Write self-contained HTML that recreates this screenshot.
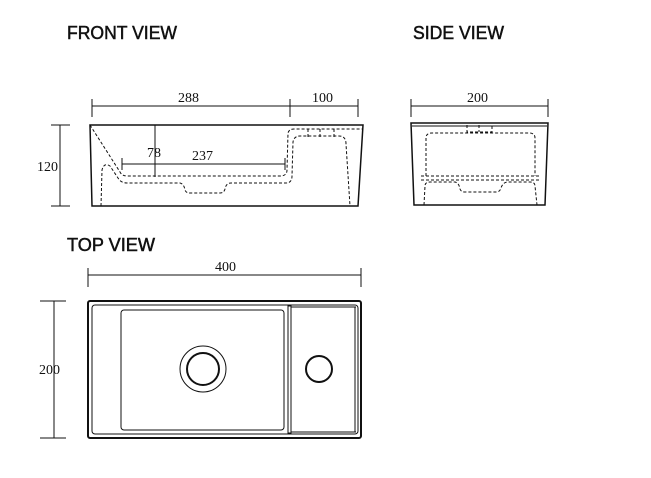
<!DOCTYPE html>
<html><head><style>
html,body{margin:0;padding:0;background:#fff;}
svg{display:block;}
.t{font-family:"Liberation Sans",sans-serif;font-size:18px;fill:#111;stroke:#111;stroke-width:0.5;}
.d{font-family:"Liberation Serif",serif;font-size:14px;fill:#111;}
</style></head><body>
<svg width="651" height="478" viewBox="0 0 651 478" xmlns="http://www.w3.org/2000/svg">
<text class="t" x="67" y="39" textLength="110" lengthAdjust="spacingAndGlyphs">FRONT VIEW</text>
<text class="t" x="413" y="39" textLength="91" lengthAdjust="spacingAndGlyphs">SIDE VIEW</text>
<text class="t" x="67" y="251" textLength="88" lengthAdjust="spacingAndGlyphs">TOP VIEW</text>

<g stroke="#111" fill="none" stroke-width="1">
<line x1="92" y1="106" x2="358" y2="106"/>
<line x1="92" y1="99" x2="92" y2="117"/><line x1="290" y1="99" x2="290" y2="117"/><line x1="358" y1="99" x2="358" y2="117"/>
<line x1="60" y1="125" x2="60" y2="206"/>
<line x1="51" y1="125" x2="70" y2="125"/><line x1="51" y1="206" x2="70" y2="206"/>
<line x1="155" y1="125" x2="155" y2="177"/>
<line x1="122" y1="164" x2="285" y2="164"/>
<line x1="122" y1="158" x2="122" y2="170"/><line x1="285" y1="158" x2="285" y2="170"/>
<path d="M90 125 L363 125 L358 206 L92 206 Z" stroke-width="1.5"/>
<g stroke-dasharray="3,2">
<path d="M90 125 L120 172 Q122 176 127 176 L280 176 Q287 176 287 170 L288 133 Q289 129 294 129 L362 129"/>
<path d="M101 206 L102 170 Q104 162 110 166 L118 178 Q121 183 127 183 L180 183 Q184 184 185 190 Q186 193 190 193 L220 193 Q224 193 225 189 Q226 183 231 183 L286 183 Q292 183 292 176 L293 142 Q294 136 300 136 L339 136 Q346 136 346 144 L350 206"/>
<path d="M308 129 L308 137 M334 129 L334 137 M320 129 L320 137"/>
</g>
<line x1="411" y1="106" x2="548" y2="106"/>
<line x1="411" y1="99" x2="411" y2="117"/><line x1="548" y1="99" x2="548" y2="117"/>
<path d="M411 123 L548 123 L545 205 L414 205 Z" stroke-width="1.5"/>
<line x1="412" y1="126" x2="547" y2="126"/>
<g stroke-dasharray="3,2">
<path d="M426 176 L426 138 Q426 133 432 133 L529 133 Q535 133 535 138 L535 176"/>
<line x1="421" y1="176" x2="540" y2="176"/>
<line x1="421" y1="180" x2="540" y2="180"/>
<path d="M424 205 L425 186 Q425 182 430 182 L455 182 Q459 183 460 189 Q461 192 465 192 L496 192 Q500 192 501 188 Q503 182 508 182 L530 182 Q535 182 535 186 L537 205"/>
<path d="M467 125 L467 132 L492 132 L492 125 M479 125 L479 132"/>
</g>
<line x1="88" y1="275" x2="361" y2="275"/>
<line x1="88" y1="268" x2="88" y2="287"/><line x1="361" y1="268" x2="361" y2="287"/>
<line x1="54" y1="301" x2="54" y2="438"/>
<line x1="40" y1="301" x2="66" y2="301"/><line x1="40" y1="438" x2="66" y2="438"/>
<rect x="88" y="301" width="273" height="137" rx="2" stroke-width="2"/>
<rect x="92" y="305" width="266" height="129" rx="3"/>
<rect x="121" y="310" width="163" height="120" rx="3"/>
<rect x="288" y="306" width="3" height="127"/>
<line x1="291" y1="307" x2="356" y2="307"/><line x1="291" y1="432" x2="356" y2="432"/>
<line x1="355" y1="307" x2="355" y2="432"/>
<circle cx="203" cy="369" r="23"/>
<circle cx="203" cy="369" r="16" stroke-width="2"/>
<circle cx="319" cy="369" r="13" stroke-width="2"/>
</g>

<g class="d">
<text x="178" y="102">288</text>
<text x="312" y="102">100</text>
<text x="37" y="171">120</text>
<text x="147" y="157">78</text>
<text x="192" y="160">237</text>
<text x="467" y="102">200</text>
<text x="215" y="271">400</text>
<text x="39" y="374">200</text>
</g>
</svg>
</body></html>
